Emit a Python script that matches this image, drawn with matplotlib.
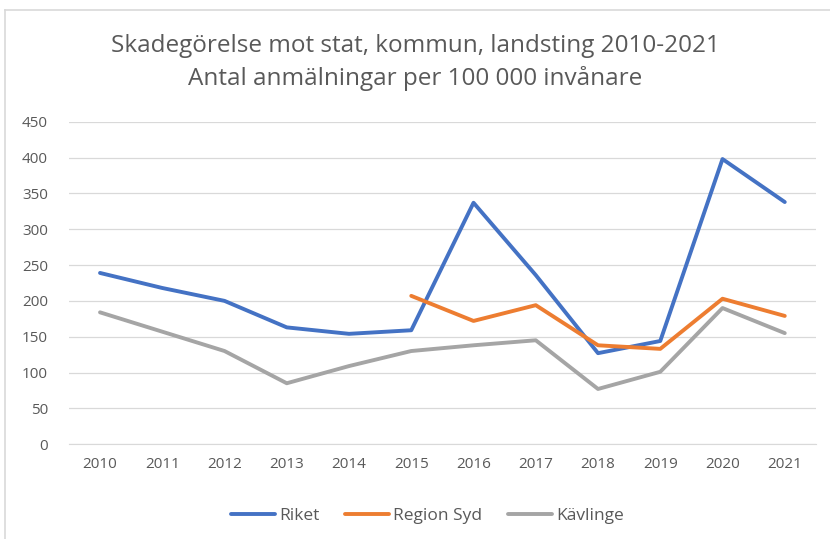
import matplotlib
matplotlib.use("Agg")
import matplotlib.pyplot as plt
from matplotlib.lines import Line2D
import numpy as np

years = ["2010","2011","2012","2013","2014","2015","2016","2017","2018","2019","2020","2021"]
riket = [239, 218, 200, 163, 154, 159, 337, 236, 127, 144, 398, 338]
region_syd = [None, None, None, None, None, 207, 172, 194, 138, 133, 203, 179]
kavlinge = [184, 157, 130, 85, 109, 130, 138, 145, 77, 101, 190, 155]

plt.rcParams['font.family'] = ['Open Sans', 'DejaVu Sans']
W, H = 830, 539
fig = plt.figure(figsize=(W / 100, H / 100), dpi=100)
ax = fig.add_axes([0.083, 0.176, 0.9, 0.598])

x = np.arange(len(years))
rs = np.array([np.nan if v is None else v for v in region_syd], dtype=float)
ax.plot(x, riket, color="#4472C4", lw=2.8, label="Riket", solid_capstyle="round")
ax.plot(x, rs, color="#ED7D31", lw=2.8, label="Region Syd", solid_capstyle="round")
ax.plot(x, kavlinge, color="#A5A5A5", lw=2.8, label="Kävlinge", solid_capstyle="round")

ax.set_xlim(-0.5, 11.5)
ax.set_ylim(0, 450)
ax.set_yticks(range(0, 451, 50))
ax.set_xticks(x)
ax.set_xticklabels(years)
ax.grid(axis="y", color="#D9D9D9", lw=0.9)
ax.set_axisbelow(True)
for s in ["top", "right", "left"]:
    ax.spines[s].set_visible(False)
ax.spines["bottom"].set_color("#D9D9D9")
ax.tick_params(length=0, colors="#595959", labelsize=11, pad=9)
ax.tick_params(axis="y", pad=15)

fig.text(0.5, 0.915, "Skadegörelse mot stat, kommun, landsting 2010-2021", ha="center",
         va="center", fontsize=17.5, color="#595959")
fig.text(0.5, 0.855, "Antal anmälningar per 100 000 invånare", ha="center",
         va="center", fontsize=17.5, color="#595959")

leg = fig.legend(loc="center", bbox_to_anchor=(0.515, 0.043), ncol=3, frameon=False,
                 fontsize=12.5, handlelength=2.5, columnspacing=1.5, handletextpad=0.25)
for t in leg.get_texts():
    t.set_color("#595959")

# border (top and left edges visible in the reference crop)
fig.add_artist(Line2D([5 / W, 1.0], [1 - 10 / H, 1 - 10 / H], transform=fig.transFigure,
                      color="#D9D9D9", lw=1.2))
fig.add_artist(Line2D([5 / W, 5 / W], [0, 1 - 10 / H], transform=fig.transFigure,
                      color="#D9D9D9", lw=1.2))
fig.savefig("out.png", dpi=100)
